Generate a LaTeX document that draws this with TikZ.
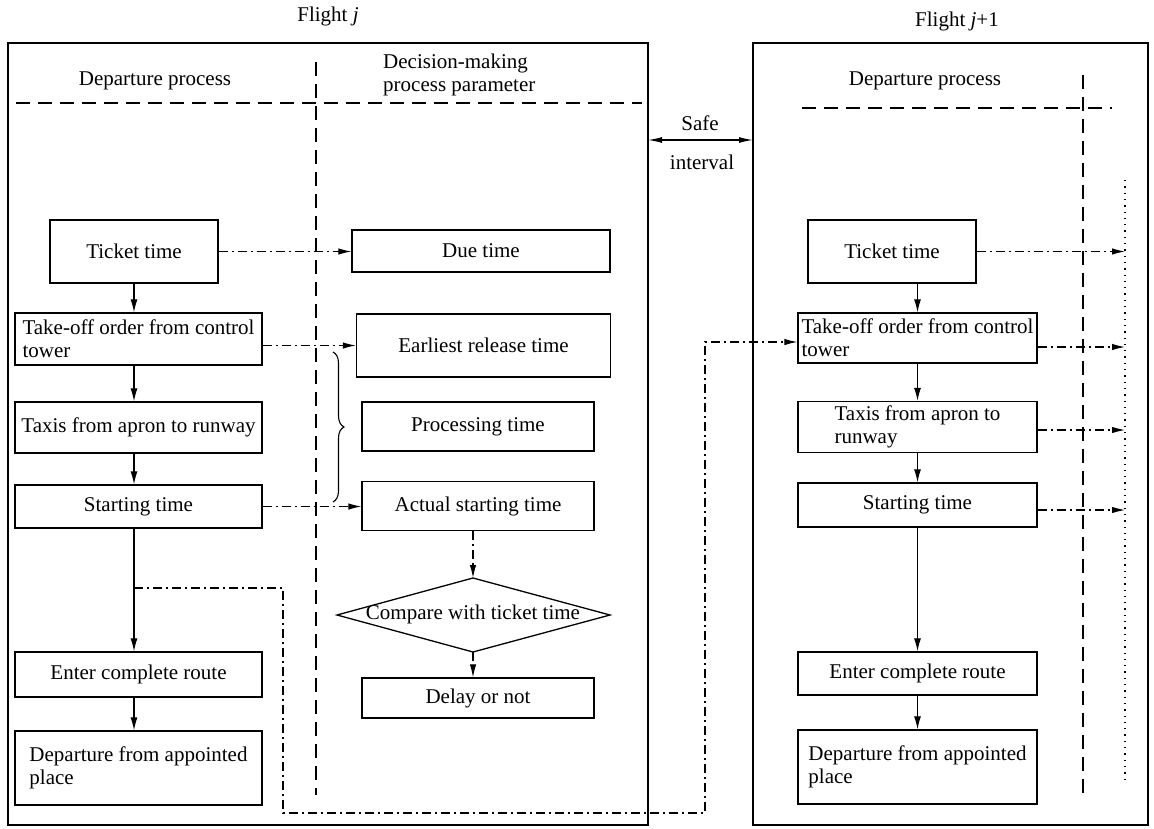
\documentclass[tikz,border=0pt]{standalone}
\usepackage{fontspec}
\setmainfont{Liberation Serif}
\usetikzlibrary{arrows.meta,decorations.pathreplacing,calc}
\begin{document}
\begin{tikzpicture}[x=1pt,y=-1pt,
  every node/.style={font=\fontsize{21}{23}\selectfont},
  lbl/.style={inner sep=0pt},
  box/.style={draw, line width=1.3pt, inner sep=0pt, align=center},
  lbox/.style={box, align=left},
  frame/.style={draw, line width=1.4pt, inner sep=0pt},
  flow/.style={line width=1.2pt, -{Latex[length=13pt,width=7pt]}},
  dd/.style={line width=1.1pt, dash pattern=on 9pt off 4pt on 2pt off 4pt, -{Latex[length=13pt,width=6.5pt]}},
  sep/.style={line width=1.3pt, dash pattern=on 14pt off 8pt},
  dots/.style={line width=1.3pt, dash pattern=on 1.3pt off 5pt},
  twoway/.style={line width=1.3pt, {Latex[length=14pt,width=6pt]}-{Latex[length=14pt,width=6pt]}}
]
\useasboundingbox (0,0) rectangle (1154,828);

% frames
\node[frame, minimum width=640, minimum height=782] (fj) at (328,434) {};
\node[frame, minimum width=395, minimum height=782] (fr) at (950.5,434) {};

% titles
\node[lbl] (tj) at (328,16) {Flight \textit{j}};
\node[lbl] (tj1) at (957,21) {Flight \textit{j}+1};

% headers
\node[lbl] (hdl) at (155,81) {Departure process};
\node[lbl, align=left, anchor=west] (hdm) at (383,75) {Decision-making\\process parameter};
\node[lbl] (hdr) at (925,81) {Departure process};

% separators
\coordinate (lh0) at (16,103);
\coordinate (lh1) at (642,103);
\coordinate (lv0) at (316,62);
\coordinate (lv1) at (316,795);
\draw[sep] (lh0) -- (lh1);
\draw[sep] (lv0) -- (lv1);
\coordinate (rh0) at (802,108);
\coordinate (rh1) at (1112,108);
\coordinate (rv0) at (1083,75);
\coordinate (rv1) at (1083,795);
\draw[sep] (rh0) -- (rh1);
\draw[sep] (rv0) -- (rv1);
\coordinate (dotT) at (1125,180);
\coordinate (dotB) at (1125,782);
\draw[dots] (dotT) -- (dotB);

% safe interval
\coordinate (siL) at (648,140);
\coordinate (siR) at (753,140);
\draw[twoway] (siL) -- (siR);
\node[lbl] (safe) at (700,123) {Safe};
\node[lbl] (intv) at (702,162) {interval};

% left column
\node[box, minimum width=168, minimum height=63] (tk) at (134,251.5) {Ticket time};
\node[lbox, minimum width=247, minimum height=52] (to) at (138.5,339) {Take-off order from control\\tower};
\node[box, minimum width=247, minimum height=51] (tx) at (138.5,427.5) {Taxis from apron to runway};
\node[box, minimum width=247, minimum height=43] (st) at (138.5,506.5) {Starting time};
\node[box, minimum width=247, minimum height=45] (en) at (138.5,674.5) {Enter complete route};
\node[lbox, minimum width=247, minimum height=74] (dp) at (138.5,768) {Departure from appointed\\place};

% middle column
\node[box, minimum width=258, minimum height=42] (due) at (481,251) {Due time};
\node[box, minimum width=254, minimum height=63] (er) at (483.5,345.5) {Earliest release time};
\node[box, minimum width=232, minimum height=49] (pr) at (478,426.5) {Processing time};
\node[box, minimum width=232, minimum height=49] (act) at (478,506) {Actual starting time};
\coordinate (cmpL) at (337,615);
\coordinate (cmpT) at (473,578);
\coordinate (cmpR) at (610,615);
\coordinate (cmpB) at (473,652);
\draw[line width=1.3pt] (cmpL) -- (cmpT) -- (cmpR) -- (cmpB) -- cycle;
\node[lbl] (cmp) at (473,614) {Compare with ticket time};
\node[box, minimum width=232, minimum height=40] (dl) at (478,698) {Delay or not};

% right column
\node[box, minimum width=168, minimum height=63] (rtk) at (892,251.5) {Ticket time};
\node[lbox, minimum width=239, minimum height=50] (rto) at (917.5,338) {Take-off order from control\\tower};
\node[lbox, minimum width=239, minimum height=51] (rtx) at (917.5,427) {Taxis from apron to\\runway};
\node[box, minimum width=239, minimum height=44] (rst) at (917.5,505) {Starting time};
\node[box, minimum width=239, minimum height=43] (ren) at (917.5,673.5) {Enter complete route};
\node[lbox, minimum width=239, minimum height=74] (rdp) at (917.5,767) {Departure from appointed\\place};

% left flow
\draw[flow] (tk.south) -- (tk.south |- to.north);
\draw[flow] (tk.south |- to.south) -- (tk.south |- tx.north);
\draw[flow] (tk.south |- tx.south) -- (tk.south |- st.north);
\draw[flow] (tk.south |- st.south) -- (tk.south |- en.north);
\draw[flow] (tk.south |- en.south) -- (tk.south |- dp.north);

% right flow
\draw[flow] (rto.north |- rtk.south) -- (rto.north);
\draw[flow] (rto.south) -- (rtx.north);
\draw[flow] (rtx.south) -- (rst.north);
\draw[flow] (rst.south) -- (ren.north);
\draw[flow] (ren.south) -- (rdp.north);

% dash-dot links, flight j
\draw[dd] (tk.east) -- (tk.east -| due.west);
\draw[dd] (to.east |- er.west) -- (er.west);
\draw[dd] (st.east) -- (st.east -| act.west);
\draw[dd] (act.south -| cmpT) -- (cmpT);
\draw[dd] (cmpB) -- (cmpB |- dl.north);

% brace
\coordinate (brT) at (333,352);
\coordinate (brB) at (333,502);
\draw[line width=1.1pt, decorate, decoration={brace, amplitude=11pt}] (brT) -- (brB);

% long link to flight j+1
\coordinate (b0) at (134,588);
\coordinate (b1) at (283,588);
\coordinate (b2) at (283,813);
\coordinate (b3) at (705,813);
\coordinate (b4) at (705,342);
\draw[dd] (b0) -- (b1) -- (b2) -- (b3) -- (b4) -- (b4 -| rto.west);

% dash-dot links, flight j+1
\draw[dd] (rtk.east) -- (rtk.east -| dotT);
\draw[dd] ([yshift=-9pt]rto.east) -- ([yshift=-9pt]rto.east -| dotT);
\draw[dd] ([yshift=-3pt]rtx.east) -- ([yshift=-3pt]rtx.east -| dotT);
\draw[dd] ([yshift=-5pt]rst.east) -- ([yshift=-5pt]rst.east -| dotT);
\end{tikzpicture}
\end{document}
